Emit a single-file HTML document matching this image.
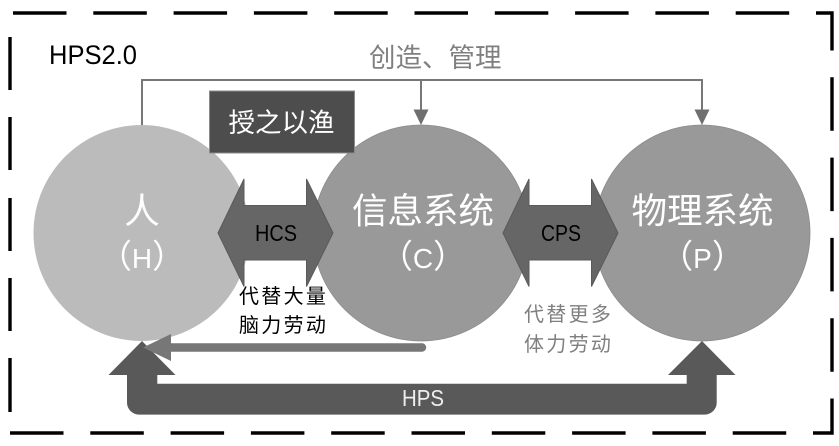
<!DOCTYPE html>
<html>
<head>
<meta charset="utf-8">
<style>
html,body{margin:0;padding:0;background:#fff;width:839px;height:446px;overflow:hidden}
svg{display:block}
text{font-family:"Liberation Sans","Noto Sans CJK SC",sans-serif}
</style>
</head>
<body>
<svg width="839" height="446" viewBox="0 0 839 446" xmlns="http://www.w3.org/2000/svg">
  <!-- dashed frame -->
  <path d="M13 13H832V433H10" fill="none" stroke="#000" stroke-width="3.4" stroke-dasharray="53.5 26.8"/>
  <path d="M10 37V90M10 117V170M10 198V251M10 278V331M10 358V412" fill="none" stroke="#000" stroke-width="3.4"/>

  <!-- circles -->
  <circle cx="141.500" cy="233" r="108" fill="#bbbbbb"/>
  <circle cx="421" cy="233" r="108" fill="#999999" stroke="#8a8a8a" stroke-width="0.8"/>
  <circle cx="702" cy="233" r="108" fill="#999999" stroke="#8a8a8a" stroke-width="0.8"/>

  <!-- top connector -->
  <path d="M142 125V80H702V112M421 80V112" fill="none" stroke="#777" stroke-width="2"/>
  <path d="M413.500 109.500H428.500L421 125Z" fill="#6f6f6f"/>
  <path d="M694.500 109.500H709.500L702 125Z" fill="#6f6f6f"/>

  <!-- box -->
  <rect x="209.500" y="91" width="145" height="62" fill="#4d4d4d" stroke="#8c8c8c" stroke-width="1"/>

  <!-- double arrows -->
  <path d="M218 233L244 179V205.500H306.500V179L333 233L306.500 286.500V260H244V286.500Z" fill="#666" stroke="#5a5a5a" stroke-width="1"/>
  <path d="M503 233L529 179V205.500H591.500V179L618 233L591.500 286.500V260H529V286.500Z" fill="#666" stroke="#5a5a5a" stroke-width="1"/>

  <!-- HPS arrow -->
  <path d="M142 341L175.500 375H157.300V383.700H686.700V375H668L702 341L735.500 375H716.700V402.500A12 12 0 0 1 704.700 414.600H139A12 12 0 0 1 127 402.500V375H108.500Z" fill="#595959"/>

  <!-- grey feedback arrow -->
  <path d="M422 343.300V351.700H171V361L143 347.500L171 334V343.300Z" fill="#777"/>
  <circle cx="422" cy="347.500" r="4.200" fill="#777"/>

  <!-- labels -->
  <text x="49" y="64" font-size="27" textLength="88" lengthAdjust="spacingAndGlyphs" fill="#000">HPS2.0</text>
  <text x="369" y="67" font-size="26.500" fill="#7f7f7f">创造、管理</text>
  <text x="228.500" y="132" font-size="26.500" fill="#fff">授之以渔</text>

  <text x="142" y="223" font-size="35.500" fill="#fff" text-anchor="middle">人</text>
  <text x="142" y="268" fill="#fff" text-anchor="middle"><tspan font-size="33">（</tspan><tspan font-size="28">H</tspan><tspan font-size="33">）</tspan></text>

  <text x="423" y="223" font-size="35.500" fill="#fff" text-anchor="middle">信息系统</text>
  <text x="423" y="268" fill="#fff" text-anchor="middle"><tspan font-size="33">（</tspan><tspan font-size="28">C</tspan><tspan font-size="33">）</tspan></text>

  <text x="702.500" y="223" font-size="35.500" fill="#fff" text-anchor="middle">物理系统</text>
  <text x="702.500" y="268" fill="#fff" text-anchor="middle"><tspan font-size="33">（</tspan><tspan font-size="28">P</tspan><tspan font-size="33">）</tspan></text>

  <text x="255" y="241" font-size="23" textLength="42" lengthAdjust="spacingAndGlyphs" fill="#000">HCS</text>
  <text x="541" y="241" font-size="23" textLength="40" lengthAdjust="spacingAndGlyphs" fill="#000">CPS</text>

  <text x="239" y="303" font-size="20" letter-spacing="2.300" fill="#000">代替大量</text>
  <text x="239" y="332" font-size="20" letter-spacing="2.300" fill="#000">脑力劳动</text>

  <text x="524" y="321" font-size="20" letter-spacing="2.300" fill="#7f7f7f">代替更多</text>
  <text x="524" y="351" font-size="20" letter-spacing="2.300" fill="#7f7f7f">体力劳动</text>

  <text x="402" y="406" font-size="23" textLength="42" lengthAdjust="spacingAndGlyphs" fill="#eee">HPS</text>
</svg>
</body>
</html>
